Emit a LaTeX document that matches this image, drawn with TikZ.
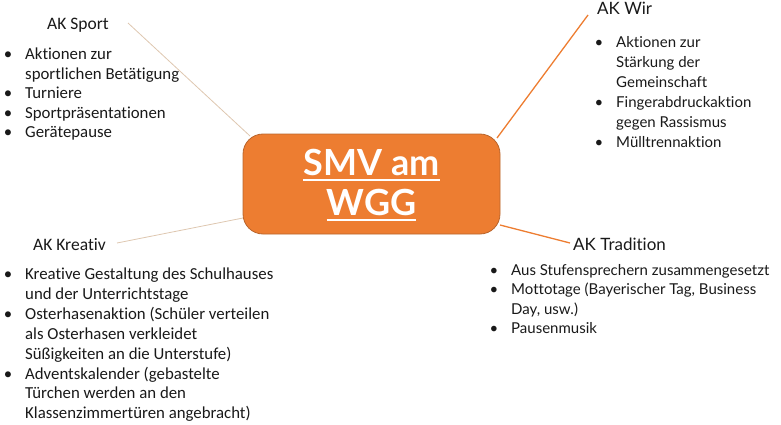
\documentclass[tikz,border=0pt]{standalone}
\usepackage{fontspec}
\newfontfamily\calfont[Ligatures={NoCommon}]{Carlito}
\newfontfamily\gillfont[Ligatures={NoCommon}]{Lato}
\definecolor{smvorange}{HTML}{ED7D31}
\definecolor{smvborder}{HTML}{B9652C}
\definecolor{tanline}{HTML}{DEC7B0}
\tikzset{
  lft/.style={font=\calfont\fontsize{16.8}{20}\selectfont, inner sep=0, text=black!90},
  lfthead/.style={font=\calfont\fontsize{17.5}{20}\selectfont, inner sep=0, text=black!90},
  rgt/.style={font=\gillfont\fontsize{15}{20}\selectfont, inner sep=0, text=black!90},
  rgthead/.style={font=\gillfont\fontsize{17}{20}\selectfont, inner sep=0, text=black!90},
  centertext/.style={font=\gillfont\bfseries\fontsize{36}{40}\selectfont, inner sep=0, text=white},
  thinlink/.style={draw=tanline, line width=0.8pt},
  orangelink/.style={draw=smvorange, line width=1.3pt},
}
\begin{document}
\begin{tikzpicture}[x=1pt,y=1pt]
\useasboundingbox (0,0) rectangle (781,-425);
% central box
\node[draw=smvborder, fill=smvorange, line width=0.8pt, rounded corners=20pt,
      minimum width=257pt, minimum height=100pt, inner sep=0] (box) at (371.5,-184) {};
\node[centertext, anchor=base] (smv) at (371.5,-175) {SMV am};
\node[centertext, anchor=base] (wgg) at (371.5,-215) {WGG};
\draw[white, line width=2.4pt] ([yshift=-5pt]smv.base west) -- ([yshift=-5pt]smv.base east);
\draw[white, line width=2.4pt] ([yshift=-5pt]wgg.base west) -- ([yshift=-5pt]wgg.base east);

% headings
\node[lfthead, anchor=base west] (sport) at (47,-30) {AK Sport};
\node[lfthead, anchor=base west] (kreativ) at (33,-250) {AK Kreativ};
\node[rgthead, anchor=base west] (wir) at (597,-15) {AK Wir};
\node[rgthead, anchor=base west] (tradition) at (573,-250) {AK Tradition};

% connector ends
\coordinate (sportA) at (128,-23);
\coordinate (sportB) at (250,-136);
\coordinate (kreativA) at (117,-243);
\coordinate (kreativB) at (243,-218);
\coordinate (wirA) at (588,-15);
\coordinate (wirB) at (497,-138);
\coordinate (tradA) at (500,-225);
\coordinate (tradB) at (570,-243);
\draw[thinlink] (sportA) -- (sportB);
\draw[thinlink] (kreativA) -- (kreativB);
\draw[orangelink] (wirA) -- (wirB);
\draw[orangelink] (tradA) -- (tradB);

% AK Sport list
\foreach \b/\t [count=\i] in {1/Aktionen zur, 0/sportlichen Betätigung, 1/Turniere, 1/Sportpräsentationen, 1/Gerätepause}{
  \node[lft, anchor=base west] (s\i) at (25,{-(60+(\i-1)*19.5)}) {\t};
  \ifnum\b=1 \node[lft, anchor=base] (sb\i) at (8,{-(60+(\i-1)*19.5)}) {•};\fi
}
% AK Kreativ list
\foreach \b/\t [count=\i] in {1/Kreative Gestaltung des Schulhauses, 0/und der Unterrichtstage, 1/Osterhasenaktion (Schüler verteilen, 0/als Osterhasen verkleidet, 0/Süßigkeiten an die Unterstufe), 1/Adventskalender (gebastelte, 0/Türchen werden an den, 0/Klassenzimmertüren angebracht)}{
  \node[lft, anchor=base west] (k\i) at (25,{-(279.5+(\i-1)*19.9)}) {\t};
  \ifnum\b=1 \node[lft, anchor=base] (kb\i) at (8,{-(279.5+(\i-1)*19.9)}) {•};\fi
}
% AK Wir list
\foreach \b/\t [count=\i] in {1/Aktionen zur, 0/Stärkung der, 0/Gemeinschaft, 1/Fingerabdruckaktion, 0/gegen Rassismus, 1/Mülltrennaktion}{
  \node[rgt, anchor=base west] (w\i) at (616,{-(48+(\i-1)*19.8)}) {\t};
  \ifnum\b=1 \node[rgt, anchor=base] (wb\i) at (599,{-(48+(\i-1)*19.8)}) {•};\fi
}
% AK Tradition list
\foreach \b/\t [count=\i] in {{1/Aus Stufensprechern zusammengesetzt}, {1/Mottotage (Bayerischer Tag, Business}, {0/Day, usw.)}, {1/Pausenmusik}}{
  \node[rgt, anchor=base west] (t\i) at (511,{-(275+(\i-1)*19.5)}) {\t};
  \ifnum\b=1 \node[rgt, anchor=base] (tb\i) at (494,{-(275+(\i-1)*19.5)}) {•};\fi
}
\end{tikzpicture}
\end{document}
